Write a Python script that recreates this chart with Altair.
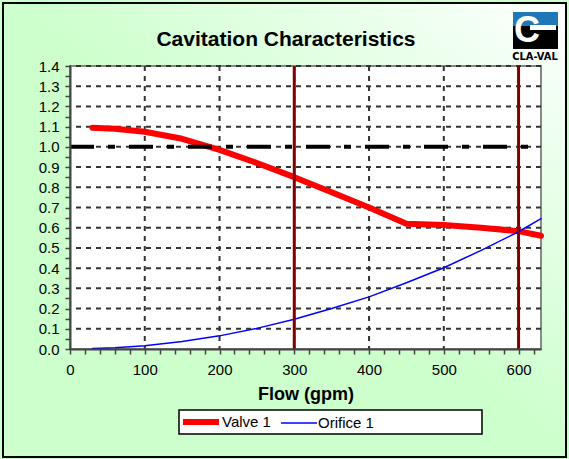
import altair as alt
import pandas as pd

# ---- data ----
flow = [30, 60, 100, 150, 200, 250, 300, 350, 400, 450, 500, 550, 600, 630]
valve = [1.095, 1.09, 1.075, 1.04, 0.985, 0.92, 0.85, 0.775, 0.70, 0.62, 0.613, 0.60, 0.583, 0.56]
orifice = [0.002, 0.006, 0.016, 0.037, 0.065, 0.102, 0.147, 0.20, 0.258, 0.328, 0.402, 0.488, 0.58, 0.645]
series_names = ["Valve 1", "Orifice 1"]
series_colors = ["#ff0000", "#0000ff"]
series_widths = [6, 1.5]
ref_level = [1.0]
marker_flows = [300, 600]
x_grid = [100, 200, 300, 400, 500, 600]
y_grid = [0.1, 0.2, 0.3, 0.4, 0.5, 0.6, 0.7, 0.8, 0.9, 1.0, 1.1, 1.2, 1.3, 1.4]
x_tick_values = list(range(0, 621, 20))
y_tick_values = [round(i * 0.05, 2) for i in range(29)]

W, H = 471, 283
FONT = "Liberation Sans"

lines_df = pd.DataFrame({
    "flow": flow * 2,
    "value": valve + orifice,
    "series": [series_names[0]] * len(flow) + [series_names[1]] * len(flow),
})
one = pd.DataFrame({"a": [0]})

xs = alt.Scale(domain=[0, 630], nice=False, zero=False)
ys = alt.Scale(domain=[0, 1.4], nice=False)

x_axis = alt.Axis(
    values=x_tick_values,
    labelExpr="datum.value % 100 == 0 ? datum.label : ''",
    grid=False, tickSize=5, tickColor="#444444", tickWidth=1.5,
    domainColor="#444444", domainWidth=2,
    labelFontSize=15, labelFont=FONT, labelColor="black", labelPadding=8,
    labelOverlap=False, labelFlush=False,
    title="Flow (gpm)", titleFontSize=18, titleFont=FONT, titleFontWeight="bold",
    titleColor="black", titlePadding=8, zindex=1,
)
y_axis = alt.Axis(
    values=y_tick_values,
    labelExpr="round(datum.value * 20) % 2 == 0 ? format(datum.value, '.1f') : ''",
    grid=False, tickSize=5, tickColor="#444444", tickWidth=1.5,
    domainColor="#444444", domainWidth=2,
    labelFontSize=15, labelFont=FONT, labelColor="black", labelPadding=6,
    labelOverlap=False, labelFlush=False, zindex=1,
)

def X(field):
    return alt.X(field, scale=xs, axis=x_axis, title="Flow (gpm)")

def Y(field):
    return alt.Y(field, scale=ys, axis=y_axis, title=None)

grad = alt.LinearGradient(
    gradient="linear",
    stops=[
        alt.GradientStop(offset=0, color="#ccffcc"),
        alt.GradientStop(offset=0.5, color="#ccffcc"),
        alt.GradientStop(offset=0.85, color="#effff0"),
        alt.GradientStop(offset=1, color="#ffffff"),
    ],
    x1=0, y1=1, x2=1, y2=0,
)

bg = alt.Chart(one).mark_rect(fill=grad, stroke="black", strokeWidth=2).encode(
    x=alt.value(-67), x2=alt.value(496), y=alt.value(-63), y2=alt.value(391)
)
plot_bg = alt.Chart(one).mark_rect(fill="white", stroke="#888888", strokeWidth=2).encode(
    x=alt.value(0), x2=alt.value(W), y=alt.value(0), y2=alt.value(H)
)

xgrid = alt.Chart(pd.DataFrame({"g": x_grid})).mark_rule(
    stroke="#333333", strokeWidth=2, strokeDash=[5, 5]
).encode(x=X("g:Q"))
ygrid = alt.Chart(pd.DataFrame({"g": y_grid})).mark_rule(
    stroke="#333333", strokeWidth=2, strokeDash=[5, 5]
).encode(y=Y("g:Q"))

leg = alt.Legend(
    orient="none", legendX=110, legendY=335, direction="horizontal",
    symbolType="stroke", symbolSize=1296, labelFontSize=15, labelFont=FONT,
    labelColor="black", columnPadding=7, labelOffset=0, padding=0,
)

lines = alt.Chart(lines_df).mark_line(strokeCap="round", strokeJoin="round").encode(
    x=X("flow:Q"),
    y=Y("value:Q"),
    color=alt.Color("series:N", scale=alt.Scale(domain=series_names, range=series_colors),
                    legend=leg, title=None),
    strokeWidth=alt.StrokeWidth("series:N", scale=alt.Scale(domain=series_names, range=series_widths),
                                legend=leg, title=None),
)

ref = alt.Chart(pd.DataFrame({"r": ref_level})).mark_rule(
    stroke="black", strokeWidth=4, strokeDash=[24, 14, 7, 14], strokeDashOffset=25,
    strokeCap="butt"
).encode(y=Y("r:Q"))

markers = alt.Chart(pd.DataFrame({"m": marker_flows})).mark_rule(
    stroke="#800000", strokeWidth=3
).encode(x=X("m:Q"))

legend_box = alt.Chart(one).mark_rect(fill="white", stroke="black", strokeWidth=1.5).encode(
    x=alt.value(109), x2=alt.value(412), y=alt.value(344), y2=alt.value(368)
)

title_txt = alt.Chart(one).mark_text(
    text="Cavitation Characteristics", font=FONT, fontWeight="bold", fontSize=21,
    color="black", align="center", baseline="alphabetic"
).encode(x=alt.value(216), y=alt.value(-20))

logo_blue = alt.Chart(one).mark_rect(fill="#1f77b8").encode(
    x=alt.value(443), x2=alt.value(488), y=alt.value(-54), y2=alt.value(-40)
)
logo_black = alt.Chart(one).mark_rect(fill="black").encode(
    x=alt.value(443), x2=alt.value(488), y=alt.value(-40), y2=alt.value(-17)
)
logo_bar = alt.Chart(one).mark_rect(fill="white").encode(
    x=alt.value(460), x2=alt.value(486), y=alt.value(-41), y2=alt.value(-36)
)
logo_c = alt.Chart(one).mark_text(
    text="C", font=FONT, fontWeight="bold", fontSize=36, color="white",
    align="center", baseline="middle"
).encode(x=alt.value(457), y=alt.value(-35))
logo_txt = alt.Chart(one).mark_text(
    text="CLA-VAL", font="DejaVu Sans Condensed", fontWeight="bold", fontSize=11, color="black",
    align="center", baseline="middle"
).encode(x=alt.value(465), y=alt.value(-9))

chart = alt.layer(
    bg, plot_bg, xgrid, ygrid, lines, ref, markers, legend_box, title_txt,
    logo_blue, logo_black, logo_bar, logo_c, logo_txt,
).properties(
    width=W, height=H,
    padding={"left": 70, "top": 66, "right": 28, "bottom": 110},
    autosize=alt.AutoSizeParams(type="none"),
    background="#ccffcc",
).configure_view(strokeWidth=0)

chart.save("out.html", embed_options={"renderer": "svg", "actions": False})
